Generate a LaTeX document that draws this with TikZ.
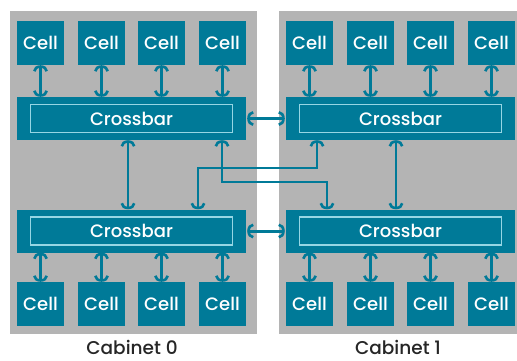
\documentclass[tikz,border=0pt]{standalone}
\usepackage{fontspec}
\setmainfont{Poppins}[BoldFont={Poppins Medium}]
\usetikzlibrary{arrows.meta,calc}
\definecolor{hpteal}{RGB}{0,122,152}
\definecolor{cabgray}{RGB}{180,180,180}
\definecolor{innerline}{RGB}{150,214,228}
\begin{document}
\begin{tikzpicture}[x=1pt,y=-1pt,
  cab/.style={fill=cabgray,draw=none},
  cellbox/.style={fill=hpteal,draw=none,minimum width=47pt,minimum height=44pt,inner sep=0pt,
    text=white,font=\fontsize{18}{18}\selectfont\bfseries},
  xbar/.style={fill=hpteal,draw=none,minimum width=229pt,minimum height=43pt,inner sep=0pt},
  xinner/.style={draw=innerline,line width=1.3pt,minimum width=202pt,minimum height=28pt,inner sep=0pt,
    text=white,font=\fontsize{18}{18}\selectfont\bfseries},
  tipx/.tip={Arc Barb[length=6pt,width=15pt,line width=2.6pt]},
  link/.style={draw=hpteal,line width=3pt,tipx-tipx},
  xlink/.style={draw=hpteal,line width=2.4pt,tipx-tipx},
  cablabel/.style={font=\fontsize{18.5}{18.5}\selectfont\bfseries,text=black!85}
]
\useasboundingbox (0,0) rectangle (517,360);
\fill[white] (0,0) rectangle (517,360);
% cabinets
\fill[cab] (10,11) rectangle (257,334);
\fill[cab] (279,11) rectangle (517,334);
% crossbars
\node[xbar] (xb0t) at (131.5,118.5) {};
\node[xbar] (xb0b) at (131.5,231) {};
\node[xbar] (xb1t) at (400.5,118.5) {};
\node[xbar] (xb1b) at (400.5,231) {};
\node[xinner] (xi0t) at (xb0t) {Crossbar};
\node[xinner] (xi0b) at (xb0b) {Crossbar};
\node[xinner] (xi1t) at (xb1t) {Crossbar};
\node[xinner] (xi1b) at (xb1b) {Crossbar};
% cells
\foreach \i/\x in {1/40.5,2/101.5,3/161.5,4/222.5}{
  \node[cellbox] (c0t\i) at (\x,43) {Cell};
  \node[cellbox] (c0b\i) at (\x,304) {Cell};
  \draw[link] (c0t\i.south) -- (c0t\i.south |- xb0t.north);
  \draw[link] (c0b\i.north) -- (c0b\i.north |- xb0b.south);
}
\foreach \i/\x in {1/309.5,2/370.5,3/430.5,4/491.5}{
  \node[cellbox] (c1t\i) at (\x,43) {Cell};
  \node[cellbox] (c1b\i) at (\x,304) {Cell};
  \draw[link] (c1t\i.south) -- (c1t\i.south |- xb1t.north);
  \draw[link] (c1b\i.north) -- (c1b\i.north |- xb1b.south);
}
% horizontal links
\draw[link,shorten <=1pt,shorten >=1pt] (xb0t.east) -- (xb1t.west);
\draw[link,shorten <=1pt,shorten >=1pt] (xb0b.east) -- (xb1b.west);
% vertical links within cabinets
\coordinate (v0) at (128,0);
\coordinate (v1) at (396,0);
\draw[xlink] (xb0t.south -| v0) -- (xb0b.north -| v0);
\draw[xlink] (xb1t.south -| v1) -- (xb1b.north -| v1);
% crossing links
\coordinate (a1) at (222,182);
\coordinate (a2) at (327,182);
\coordinate (b1) at (317,168);
\coordinate (b2) at (198,168);
\draw[xlink] (xb0t.south -| a1) -- (a1) -- (a2) -- (xb1b.north -| a2);
\draw[xlink] (xb1t.south -| b1) -- (b1) -- (b2) -- (xb0b.north -| b2);
% labels
\node[cablabel] (lab0) at (132,347) {Cabinet 0};
\node[cablabel] (lab1) at (398,347) {Cabinet 1};
\end{tikzpicture}
\end{document}
